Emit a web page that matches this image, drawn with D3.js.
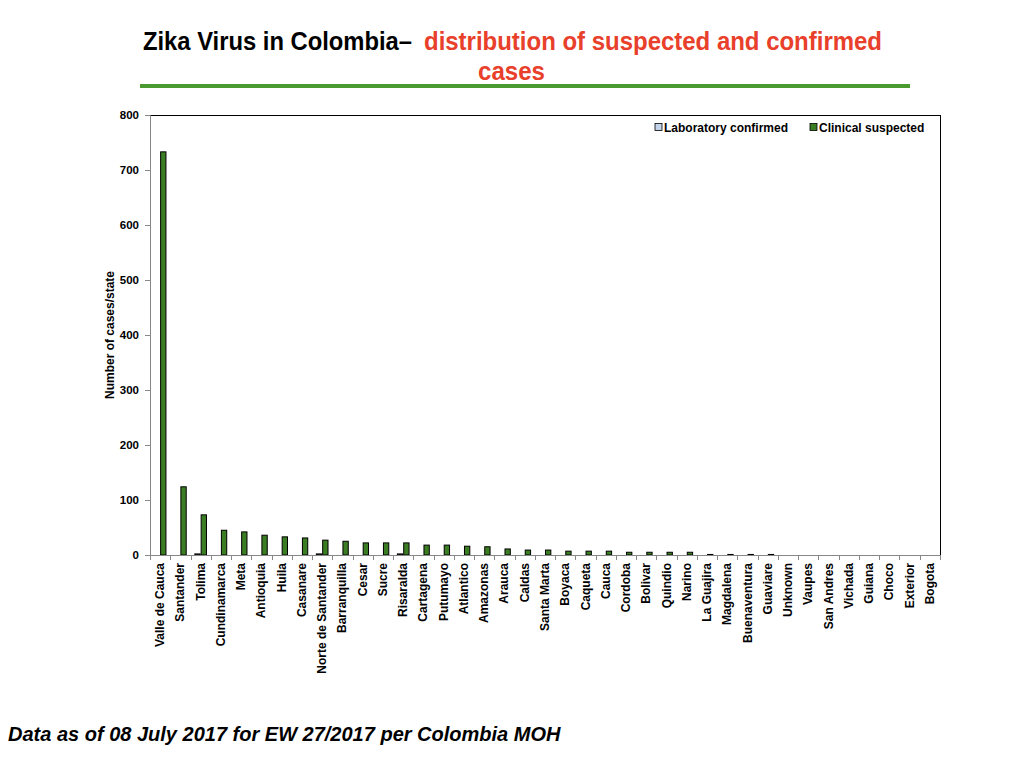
<!DOCTYPE html>
<html><head><meta charset="utf-8">
<script src="https://cdn.jsdelivr.net/npm/d3@7"></script>
<style>
html,body{margin:0;padding:0;background:#fff;}
svg{display:block;}
text{font-family:"Liberation Sans",Arial,Helvetica,sans-serif;}
</style></head>
<body>
<svg id="chart" width="1024" height="768"></svg>
<script>
const categories = ["Valle de Cauca","Santander","Tolima","Cundinamarca","Meta","Antioquia","Huila","Casanare","Norte de Santander","Barranquilla","Cesar","Sucre","Risaralda","Cartagena","Putumayo","Atlantico","Amazonas","Arauca","Caldas","Santa Marta","Boyaca","Caqueta","Cauca","Cordoba","Bolivar","Quindio","Narino","La Guajira","Magdalena","Buenaventura","Guaviare","Unknown","Vaupes","San Andres","Vichada","Guiana","Choco","Exterior","Bogota"];
const labConfirmed = [0,0,2,0,0,0,0,0,2,0,0,0,2,0,0,0,0,0,0,0,0,0,0,0,0,0,0,0,0,0,0,0,0,0,0,0,0,0,0];
const clinicalSuspected = [733,124,73,45,42,36,33,31,27,25,22,22,22,18,18,16,15,11,9,9,7,7,7,5,5,5,5,1,1,1,1,0,0,0,0,0,0,0,0];
const seriesNames = ["Laboratory confirmed","Clinical suspected"];
const seriesColors = ["#c3d4ea","#3b7d23"];
const yTicks = [0,100,200,300,400,500,600,700,800];

const svg = d3.select("#chart");
const L = 150, R = 940, T = 115, B = 555;
const titleFont = "'Liberation Sans Narrow','Liberation Sans',Arial,sans-serif";

// Title
svg.append("text").attr("x",143).attr("y",50)
  .style("font-family",titleFont).style("font-weight","bold").style("font-size","25px")
  .attr("fill","#000").attr("textLength",269).attr("lengthAdjust","spacingAndGlyphs")
  .text("Zika Virus in Colombia\u2013");
svg.append("text").attr("x",424).attr("y",50)
  .style("font-family",titleFont).style("font-weight","bold").style("font-size","25px")
  .attr("fill","#e8402a").attr("textLength",458).attr("lengthAdjust","spacingAndGlyphs")
  .text("distribution of suspected and confirmed");
svg.append("text").attr("x",478).attr("y",80)
  .style("font-family",titleFont).style("font-weight","bold").style("font-size","25px")
  .attr("fill","#e8402a").attr("textLength",67).attr("lengthAdjust","spacingAndGlyphs").text("cases");
svg.append("line").attr("x1",140).attr("x2",910).attr("y1",86).attr("y2",86)
  .attr("stroke","#4b9a2f").attr("stroke-width",4);

const x0 = d3.scaleBand().domain(categories).range([L,R]).paddingInner(0).paddingOuter(0);
const x1 = d3.scaleBand().domain(seriesNames).range([0,x0.bandwidth()]).paddingOuter(0.6).paddingInner(0);
const y = d3.scaleLinear().domain([0,800]).range([B,T]);

// frame top & right
svg.append("line").attr("x1",L).attr("x2",R).attr("y1",T+0.5).attr("y2",T+0.5).attr("stroke","#000");
svg.append("line").attr("x1",R+0.5).attr("x2",R+0.5).attr("y1",T).attr("y2",B).attr("stroke","#000");

// bars
const data = [labConfirmed, clinicalSuspected];
const g = svg.append("g");
categories.forEach((c,i)=>{
  seriesNames.forEach((s,j)=>{
    const v = data[j][i];
    if(v<=0) return;
    g.append("rect")
      .attr("x", x0(c)+x1(s)+0.5)
      .attr("y", y(v))
      .attr("width", x1.bandwidth()-1)
      .attr("height", B - y(v))
      .attr("fill", seriesColors[j]).attr("stroke","#000").attr("stroke-width",1);
  });
});

// y axis
const yAxis = svg.append("g").attr("transform",`translate(${L},0)`)
  .call(d3.axisLeft(y).tickValues(yTicks).tickSize(5).tickPadding(6));
yAxis.select(".domain").attr("stroke","#888");
yAxis.selectAll(".tick line").attr("stroke","#888");
yAxis.selectAll(".tick text").style("font-weight","bold").style("font-size","11.5px")
  .style("font-family","'Liberation Sans',Arial,sans-serif").attr("fill","#000");

// x axis
const xAxisG = svg.append("g").attr("transform",`translate(0,${B})`);
xAxisG.append("line").attr("x1",L).attr("x2",R).attr("y1",0.5).attr("y2",0.5).attr("stroke","#888");
categories.concat(["__end"]).forEach((c,i)=>{
  const xx = L + i*x0.step();
  xAxisG.append("line").attr("x1",Math.round(xx)+0.5).attr("x2",Math.round(xx)+0.5).attr("y1",0).attr("y2",5).attr("stroke","#888");
});
categories.forEach(c=>{
  const cx = x0(c)+x0.bandwidth()/2+4;
  xAxisG.append("text").attr("transform",`translate(${cx},8) rotate(-90)`)
    .attr("text-anchor","end").style("font-weight","bold").style("font-size","12px")
    .attr("fill","#000").text(c);
});

// y label
svg.append("text").attr("transform","translate(114,335) rotate(-90)")
  .attr("text-anchor","middle").style("font-weight","bold").style("font-size","12px").text("Number of cases/state");

// legend
const leg = svg.append("g");
const legX = [655, 810];
seriesNames.forEach((s,j)=>{
  leg.append("rect").attr("x",legX[j]).attr("y",123.5).attr("width",7).attr("height",7)
    .attr("fill",seriesColors[j]).attr("stroke","#000").attr("stroke-width",0.8);
  leg.append("text").attr("x",legX[j]+9).attr("y",132).style("font-weight","bold").style("font-size","12px").text(s);
});

// footer
svg.append("text").attr("x",8).attr("y",741).style("font-weight","bold").style("font-style","italic")
  .style("font-size","20px").text("Data as of 08 July 2017 for EW 27/2017 per Colombia MOH");
</script>
</body></html>
